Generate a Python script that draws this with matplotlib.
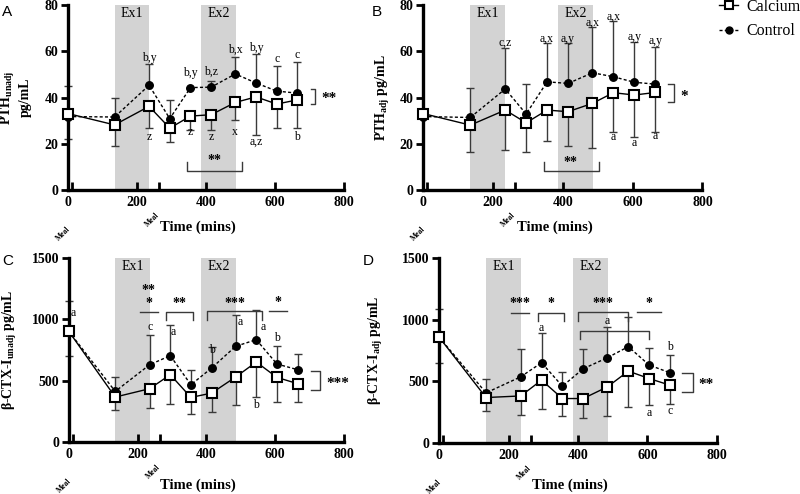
import numpy as np
import matplotlib
matplotlib.use("Agg")
import matplotlib.pyplot as plt
import matplotlib.transforms as mtrans
from matplotlib.lines import Line2D

plt.rcParams.update({"font.family": ["Liberation Serif", "DejaVu Serif"],
                     "mathtext.fontset": "custom",
                     "mathtext.rm": "Liberation Serif:bold",
                     "mathtext.it": "Liberation Serif:bold:italic",
                     "mathtext.bf": "Liberation Serif:bold"})

# sampling times (mins)
t = [0, 135, 235, 295, 355, 415, 485, 545, 605, 665]

# A: PTH unadjusted (pg/mL); *_lo / *_hi = end of the error bar
pthu_cal = [33.1, 28.2, 36.2, 26.8, 32.0, 32.6, 37.9, 40.3, 37.2, 39.0]
pthu_ctl = [31.8, 31.6, 45.3, 30.9, 44.3, 44.5, 50.2, 46.3, 42.8, 41.9]
pthu_cal_lo = [22.0, 18.9, 27.0, 20.7, 26.1, 26.2, 30.3, 23.8, 27.0, 27.0]
pthu_ctl_hi = [45.0, 39.6, 54.3, 38.8, 44.3, 47.3, 57.6, 58.7, 53.6, 55.2]

# B: PTH adjusted
ptha_cal = [33.1, 28.1, 34.6, 29.1, 34.6, 33.9, 37.5, 42.1, 41.1, 42.2]
ptha_ctl = [31.8, 31.4, 43.7, 32.9, 46.8, 46.1, 50.7, 49.0, 46.6, 45.8]
ptha_cal_lo = [33.1, 16.3, 17.3, 16.3, 21.3, 19.0, 18.3, 25.2, 23.1, 25.2]
ptha_ctl_hi = [31.8, 44.0, 61.3, 45.7, 63.4, 63.7, 70.3, 73.2, 64.1, 62.0]

# C: beta-CTX-I unadjusted
ctxu_cal = [902, 367, 435, 549, 364, 399, 530, 652, 527, 476]
ctxu_ctl = [902, 413, 630, 704, 467, 603, 780, 834, 636, 590]
ctxu_cal_lo = [698, 258, 277, 313, 231, 242, 299, 364, 323, 323]
ctxu_ctl_hi = [1152, 527, 870, 957, 584, 772, 1033, 1079, 780, 720]

# D: beta-CTX-I adjusted
ctxa_cal = [857, 369, 382, 510, 361, 361, 456, 583, 523, 469]
ctxa_ctl = [857, 407, 537, 651, 461, 602, 692, 781, 632, 570]
ctxa_cal_lo = [645, 260, 225, 274, 217, 203, 220, 293, 306, 315]
ctxa_ctl_hi = [1085, 523, 762, 895, 578, 765, 938, 1025, 773, 711]

EX1 = (135, 235); EX2 = (385, 487)
MEALS = [12, 264]
XTICKS = [0, 200, 400, 600, 800]

GREY = "#d3d3d3"; LC = "#3a3a3a"


def panel(rect, cal, ctl, cal_lo, ctl_hi, ymax, yticks, ylabel, lab_xy, xlab_y):
    ax = fig.add_axes(rect)
    ax.axvspan(*EX1, color=GREY, lw=0, zorder=0)
    ax.axvspan(*EX2, color=GREY, lw=0, zorder=0)
    cal = np.array(cal, float); ctl = np.array(ctl, float)
    z = np.zeros_like(cal)
    ax.errorbar(t, ctl, yerr=[z, np.array(ctl_hi) - ctl], fmt="none", ecolor=LC,
                elinewidth=1, capsize=3, capthick=1, zorder=2, clip_on=False)
    ax.errorbar(t, cal, yerr=[cal - np.array(cal_lo), z], fmt="none", ecolor=LC,
                elinewidth=1, capsize=3, capthick=1, zorder=2, clip_on=False)
    ax.plot(t, ctl, ls=(0, (2.2, 1.6)), lw=1, c="k", marker="o", ms=5.4,
            mfc="k", mec="k", zorder=3, clip_on=False)
    ax.plot(t, cal, ls="-", lw=1, c="k", marker="s", ms=6.5, mfc="white",
            mec="k", mew=1.5, zorder=4, clip_on=False)
    ax.set_xlim(0, 800); ax.set_ylim(0, ymax)
    ax.set_xticks(XTICKS); ax.set_xticks(MEALS, minor=True)
    ax.set_yticks(yticks)
    for s in ["top", "right"]:
        ax.spines[s].set_visible(False)
    for s in ["left", "bottom"]:
        ax.spines[s].set_linewidth(2.4)
    ax.tick_params(axis="x", which="both", direction="in", length=6, width=2,
                   pad=4, labelsize=10)
    ax.tick_params(axis="y", direction="out", length=5, width=2, pad=2,
                   labelsize=10)
    for lb in ax.get_xticklabels() + ax.get_yticklabels():
        lb.set_fontweight("bold")
    ax.set_ylabel(ylabel, fontsize=10, fontweight="bold", linespacing=1.2)
    ax.yaxis.set_label_coords(*lab_xy)
    ax.set_xlabel("Time (mins)", fontsize=10.5, fontweight="bold")
    ax.xaxis.set_label_coords(0.47, xlab_y)
    tr = mtrans.blended_transform_factory(ax.transData, ax.transAxes)
    ax.text(MEALS[0], -0.19, "Meal", rotation=45, ha="right", va="top",
            fontsize=5.5, fontweight="bold", transform=tr)
    ax.text(MEALS[1] + 6, -0.115, "Meal", rotation=45, ha="right", va="top",
            fontsize=5.5, fontweight="bold", transform=tr)
    ax.text(sum(EX1) / 2, 0.955 * ymax, "Ex1", ha="center", va="center", fontsize=10)
    ax.text(sum(EX2) / 2, 0.955 * ymax, "Ex2", ha="center", va="center", fontsize=10)
    return ax


def letters(ax, items):
    for x, y, s in items:
        ax.text(x, y, s, ha="center", va="center", fontsize=8.5)


def stars(ax, x, y, s, size=10):
    ax.text(x, y, s, ha="center", va="center", fontsize=size, fontweight="bold",
            clip_on=False)


def bracket(ax, x0, x1, y, ydrop):
    ax.plot([x0, x0, x1, x1], [ydrop, y, y, ydrop], c=LC, lw=1, clip_on=False)


def side(ax, x0, x1, y0, y1):
    ax.plot([x0, x1, x1, x0], [y0, y0, y1, y1], c=LC, lw=1, clip_on=False)


fig = plt.figure(figsize=(8, 4.94), dpi=100)

# ---- A ----
axA = panel([0.085, 0.615, 0.345, 0.375], pthu_cal, pthu_ctl, pthu_cal_lo, pthu_ctl_hi,
            80, [0, 20, 40, 60, 80], "PTH$_{\\mathrm{unadj}}$\npg/mL", (-0.13, 0.5), -0.165)
letters(axA, [(235, 57.2, "b,y"), (235, 23, "z"), (355, 50.7, "b,y"), (355, 25, "z"),
              (415, 51.3, "b,z"), (415, 23, "z"), (485, 60.5, "b,x"), (485, 25, "x"),
              (545, 61.3, "b,y"), (545, 20.8, "a,z"), (605, 56.5, "c"), (665, 58.5, "c"),
              (665, 23, "b")])
bracket(axA, 345, 505, 8.2, 12)
stars(axA, 425, 13.0, "**")
side(axA, 704, 716, 43.5, 37.4)
stars(axA, 756, 39.8, "**", 11)

# ---- B ----
axB = panel([0.529, 0.615, 0.349, 0.375], ptha_cal, ptha_ctl, ptha_cal_lo, ptha_ctl_hi,
            80, [0, 20, 40, 60, 80], "PTH$_{\\mathrm{adj}}$ pg/mL", (-0.11, 0.5), -0.165)
letters(axB, [(235, 63.7, "c,z"), (355, 65.3, "a,x"), (415, 65.3, "a,y"),
              (485, 72.3, "a,x"), (545, 75, "a,x"), (605, 66.3, "a,y"), (665, 64.6, "a,y"),
              (545, 22.8, "a"), (605, 20.5, "a"), (665, 23.3, "a")])
bracket(axB, 345, 503, 8.4, 12.2)
stars(axB, 421, 12.0, "**")
side(axB, 702, 718, 46, 38.2)
stars(axB, 749, 40.5, "*", 11)

# ---- C ----
axC = panel([0.086, 0.105, 0.344, 0.373], ctxu_cal, ctxu_ctl, ctxu_cal_lo, ctxu_ctl_hi,
            1500, [0, 500, 1000, 1500], "β-CTX-I$_{\\mathrm{unadj}}$ pg/mL", (-0.18, 0.5), -0.2)
letters(axC, [(14, 1052, "a"), (235, 938, "c"), (305, 897, "a"), (415, 753, "b"),
              (497, 975, "a"), (566, 937, "a"), (605, 848, "b"), (545, 304, "b")])
bracket(axC, 206, 258, 1057, 1057)
stars(axC, 232, 1235, "**"); stars(axC, 232, 1130, "*")
bracket(axC, 283, 361, 1057, 992)
stars(axC, 322, 1130, "**")
bracket(axC, 401, 563, 1065, 992)
stars(axC, 484, 1130, "***")
bracket(axC, 583, 635, 1071, 1071)
stars(axC, 607, 1140, "*")
side(axC, 703, 730, 576, 421)
stars(axC, 781, 480, "***", 11)

# ---- D ----
axD = panel([0.549, 0.103, 0.347, 0.375], ctxa_cal, ctxa_ctl, ctxa_cal_lo, ctxa_ctl_hi,
            1500, [0, 500, 1000, 1500], "β-CTX-I$_{\\mathrm{adj}}$ pg/mL", (-0.195, 0.5), -0.19)
letters(axD, [(295, 936, "a"), (485, 985, "a"), (665, 776, "b"), (605, 247, "a"),
              (665, 260, "c")])
bracket(axD, 206, 258, 1052, 1052)
stars(axD, 232, 1130, "***")
bracket(axD, 284, 359, 1052, 990)
stars(axD, 322, 1130, "*")
bracket(axD, 400, 545, 1058, 990)
stars(axD, 472, 1130, "***")
bracket(axD, 407, 605, 909, 841)
bracket(axD, 569, 639, 1058, 1058)
stars(axD, 603, 1130, "*")
side(axD, 699, 730, 564, 415)
stars(axD, 768, 475, "**", 11)

# panel letters
for x, y, s in [(0.003, 0.99, "A"), (0.465, 0.99, "B"), (0.003, 0.485, "C"), (0.453, 0.485, "D")]:
    fig.text(x, y, s, fontsize=11, family="Liberation Sans", va="top")

# legend
handles = [Line2D([], [], ls="-", lw=1, c="k", marker="s", ms=6, mfc="white", mec="k", mew=1.5),
           Line2D([], [], ls=(0, (2.2, 1.6)), lw=1, c="k", marker="o", ms=5, mfc="k")]
fig.legend(handles, ["Calcium", "Control"], loc="upper left", bbox_to_anchor=(0.899, 1.003),
           frameon=False, fontsize=11.5, handlelength=1.2, handletextpad=0.5, labelspacing=0.55,
           borderaxespad=0, borderpad=0)

fig.savefig("out.png", dpi=100)
